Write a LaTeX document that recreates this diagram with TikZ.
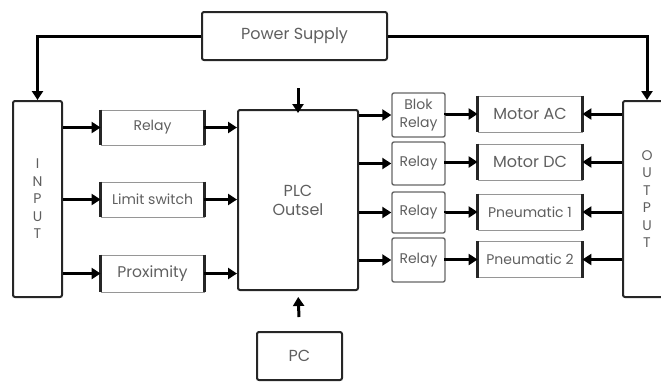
\documentclass[tikz,border=0pt]{standalone}
\usepackage{fontspec}
\setmainfont{Poppins}
\usetikzlibrary{arrows.meta,positioning}
\definecolor{txtgray}{RGB}{95,95,95}
\definecolor{boxgray}{RGB}{150,150,150}
\tikzset{
    % kotak utama
    mainbox/.style={
        draw=black!85,
        line width=2pt,
        rounded corners=2pt,
        text=txtgray,
        inner sep=0pt,
        align=center
    },
    % kotak sisi tebal kiri-kanan
    sidebox/.style={
        draw=boxgray,
        line width=0.8pt,
        text=txtgray,
        inner sep=0pt,
        minimum width=103pt,
        minimum height=35pt,
        font=\fontsize{14}{16}\selectfont,
        append after command={
            (\tikzlastnode.north west) edge[line width=2.6pt,black!85] (\tikzlastnode.south west)
            (\tikzlastnode.north east) edge[line width=2.6pt,black!85] (\tikzlastnode.south east)
        }
    },
    relaybox/.style={
        draw=black!60,
        line width=1.4pt,
        rounded corners=2pt,
        text=txtgray,
        inner sep=0pt,
        minimum width=53pt,
        align=center,
        font=\fontsize{14}{18}\selectfont
    },
    fatarrow/.style={
        line width=3pt,
        black,
        -{Triangle[length=9pt, width=11pt]}
    }
}

\begin{document}
\begin{tikzpicture}[x=1pt, y=-1pt]
        \useasboundingbox (0,0) rectangle (661,381);

        \node[mainbox, minimum width=185pt, minimum height=48pt, font=\fontsize{16}{18}\selectfont] (ps) at (294.5,36) {Power Supply};
        \node[mainbox, minimum width=49pt, minimum height=196pt, font=\fontsize{14}{17.5}\selectfont] (in) at (37.5,199) {I\\N\\P\\U\\T};
        \node[mainbox, minimum width=48pt, minimum height=196pt, font=\fontsize{14}{17.5}\selectfont] (out) at (647,199) {O\\U\\T\\P\\U\\T};
        \node[mainbox, minimum width=120pt, minimum height=180pt, font=\fontsize{16}{19}\selectfont] (plc) at (298,200) {PLC\\Outsel};
        \node[mainbox, minimum width=85pt, minimum height=48pt, font=\fontsize{16}{18}\selectfont] (pc) at (299.5,356) {PC};

        % sisi input
        \node[sidebox] (rel) at (152.5,127.5) {Relay};
        \node[sidebox] (lim) at (152.5,199.5) {Limit switch};
        \node[sidebox, minimum height=37pt, font=\fontsize{15.5}{17}\selectfont] (prox) at (152.5,273.5) {Proximity};

        % sisi output
        \node[relaybox, minimum height=44pt] (br1) at (418.5,115) {Blok\\Relay};
        \node[relaybox, minimum height=43pt] (br2) at (418.5,163.5) {Relay};
        \node[relaybox, minimum height=41pt] (br3) at (418.5,212.5) {Relay};
        \node[relaybox, minimum height=44pt] (br4) at (418.5,260) {Relay};

        \node[sidebox, minimum width=104pt, minimum height=36pt, font=\fontsize{16}{18}\selectfont] (mac) at (530,114) {Motor AC};
        \node[sidebox, minimum width=104pt, minimum height=36pt, font=\fontsize{16}{18}\selectfont] (mdc) at (530,162) {Motor DC};
        \node[sidebox, minimum width=104pt, minimum height=36pt] (pn1) at (530,212) {Pneumatic 1};
        \node[sidebox, minimum width=104pt, minimum height=36pt] (pn2) at (530,259.5) {Pneumatic 2};

        \coordinate (plctop) at (298,88);

        % power supply
        \draw[fatarrow] (ps.west) -| (in.north);
        \draw[fatarrow] (ps.east) -| (out.north);
        \draw[fatarrow] (plctop) -- ([yshift=-4pt]plc.north);
        \draw[fatarrow, shorten <=14pt, shorten >=6pt] (pc.north) -- (plc.south);

        % input ke PLC
        \foreach \n in {rel,lim,prox}{
            \draw[fatarrow] (in.east |- \n) -- (\n.west);
            \draw[fatarrow] (\n.east) -- (\n.east -| plc.west);
        }

        % PLC ke output
        \foreach \r/\m in {br1/mac,br2/mdc,br3/pn1,br4/pn2}{
            \draw[fatarrow] (plc.east |- \r) -- (\r.west);
            \draw[fatarrow] (\r.east) -- (\r.east |- \m) -- (\m.west);
            \draw[fatarrow] (out.west |- \m) -- (\m.east);
        }

\end{tikzpicture}
\end{document}
